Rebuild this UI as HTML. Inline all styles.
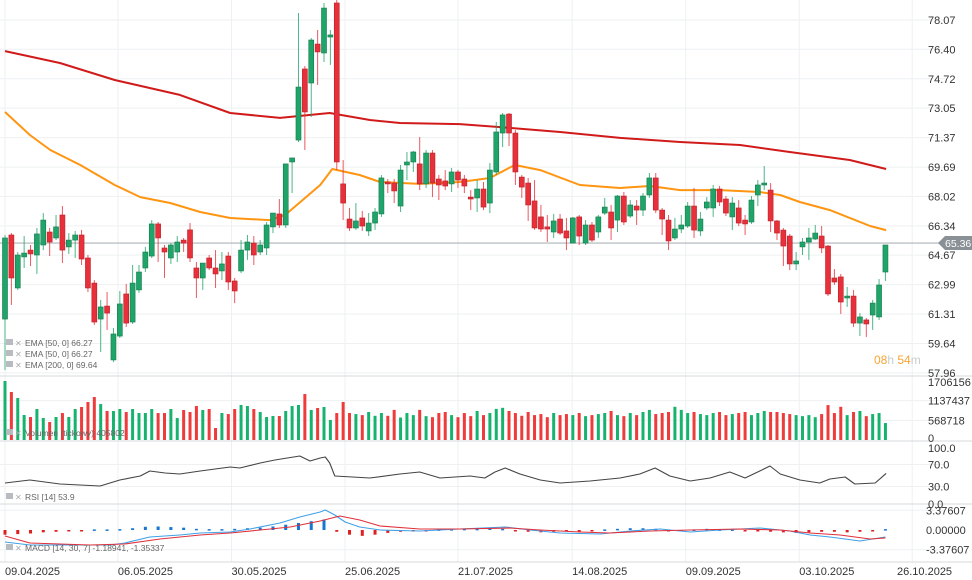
<!DOCTYPE html>
<html><head><meta charset="utf-8"><style>
html,body{margin:0;padding:0;background:#fff;}
svg{display:block;font-family:"Liberation Sans",sans-serif;}
</style></head><body>
<svg id="chart" width="972" height="580" viewBox="0 0 972 580" xmlns="http://www.w3.org/2000/svg"></svg>
<script>
// ---- data ----
const opens=[61.03,65.82,62.80,64.57,64.96,64.68,65.25,65.99,65.65,66.96,65.14,65.53,65.82,64.51,63.08,61.03,61.77,58.70,60.06,62.46,60.86,62.69,63.94,64.62,66.45,65.08,64.51,64.85,65.53,66.11,63.94,63.37,64.51,63.94,63.77,64.62,63.20,63.77,64.96,65.36,64.85,65.08,66.28,67.02,66.39,69.98,71.23,75.28,74.48,76.70,76.19,77.10,79.04,68.73,66.73,66.22,66.79,66.05,66.50,67.02,68.84,68.78,67.47,69.81,69.98,69.87,68.73,70.49,69.01,68.90,68.73,69.41,69.01,67.98,67.93,68.44,67.64,69.41,71.63,72.71,71.63,69.12,68.78,67.76,66.85,66.28,65.99,66.73,66.05,65.36,66.85,65.36,66.39,65.99,67.07,67.13,66.67,68.04,66.90,67.47,67.24,68.10,69.07,67.24,66.67,65.65,66.16,66.33,67.47,66.05,67.36,67.36,68.44,67.87,66.85,67.36,66.67,66.56,68.10,68.67,68.38,66.62,66.10,65.76,64.17,65.14,65.42,65.59,65.76,65.19,63.37,63.43,62.23,62.34,60.80,60.98,61.26,61.15,63.71];
const closes=[65.65,63.37,64.68,64.79,64.74,65.88,66.67,65.42,66.28,64.96,65.53,65.82,64.45,62.80,60.86,61.72,61.37,60.18,61.89,60.80,63.08,63.71,64.85,66.45,65.65,64.85,65.25,65.42,65.36,64.51,63.37,64.22,63.94,63.60,64.17,63.14,62.63,64.96,65.42,64.68,65.25,66.39,67.07,66.39,69.87,70.21,74.25,72.83,76.93,76.25,78.75,77.22,69.98,67.64,66.22,66.62,66.33,66.50,67.13,69.07,68.73,68.33,69.52,69.98,70.55,68.73,70.49,68.78,68.67,68.61,69.41,68.95,68.61,67.87,68.44,67.41,69.52,71.69,72.66,71.63,69.41,68.55,67.53,66.22,66.16,66.16,66.62,65.93,65.65,66.79,65.76,66.39,65.53,66.85,67.41,66.22,68.04,66.56,67.53,67.24,68.04,69.07,67.24,66.73,65.48,66.16,66.39,67.47,66.10,66.73,67.70,68.44,67.70,67.07,67.64,66.50,66.45,67.81,68.67,68.78,66.62,65.93,65.19,64.17,64.34,65.42,65.65,65.93,65.08,62.46,63.14,62.00,62.34,60.80,61.15,60.75,61.94,62.97,65.25];
const highs=[65.82,65.93,64.85,65.76,65.25,66.22,67.07,66.22,66.96,67.47,65.93,66.05,66.11,64.68,63.25,62.12,62.57,60.52,62.63,63.03,64.11,64.11,65.14,66.67,66.56,65.25,65.36,65.76,65.65,66.50,64.28,64.22,64.68,64.96,64.85,64.85,63.37,65.53,65.82,65.76,65.53,66.56,67.07,67.87,69.87,70.21,78.47,75.45,77.04,77.50,79.04,77.50,79.21,70.09,67.36,67.64,67.19,67.07,67.36,69.24,69.01,69.01,69.81,70.55,70.61,71.40,70.66,70.66,69.24,69.52,69.64,69.52,69.24,68.38,68.95,68.84,69.92,72.26,72.77,72.77,71.80,69.24,69.07,68.95,67.53,66.96,67.02,67.02,66.79,66.85,66.96,66.67,66.56,66.96,67.93,67.53,68.10,68.27,67.81,67.81,68.21,69.35,69.35,67.36,66.96,66.79,66.96,67.70,68.50,67.13,67.98,68.67,68.61,68.04,67.98,67.81,66.96,68.04,68.95,69.75,68.78,66.67,66.22,65.88,64.85,65.65,66.22,66.39,66.33,65.25,63.88,63.60,62.86,62.69,61.37,61.09,62.12,63.31,65.25];
const lows=[58.13,61.83,62.69,63.94,64.05,63.60,64.96,64.62,65.53,64.22,64.74,64.51,64.11,62.57,60.69,59.15,60.41,58.58,59.95,60.58,60.75,62.52,63.71,64.51,64.28,63.37,64.17,64.28,64.85,64.28,62.23,62.69,63.82,62.80,63.25,62.69,61.94,63.65,64.40,64.11,64.68,64.68,65.93,66.22,66.22,68.21,71.12,70.66,72.54,74.37,75.68,75.51,69.52,66.67,66.05,66.11,66.05,65.76,66.11,66.85,68.21,67.64,67.13,68.95,69.41,68.38,68.50,67.98,67.81,68.38,68.27,68.50,68.21,67.24,67.13,67.24,67.07,69.24,70.83,70.89,68.67,67.93,66.62,66.11,65.99,65.42,65.65,65.82,64.96,65.36,65.25,65.25,65.42,65.65,66.96,65.53,65.99,66.39,66.79,66.39,66.90,67.93,67.07,65.82,64.96,65.53,65.93,66.22,65.65,65.76,67.24,66.85,67.47,66.90,66.10,66.33,65.82,66.45,67.47,68.38,65.99,65.53,64.05,63.82,63.82,64.68,64.40,65.53,64.79,62.34,62.97,61.32,61.72,60.58,60.06,60.01,60.41,60.98,63.20];
const volumes=[1706,1388,1214,723,665,896,636,520,665,780,665,896,954,1098,1243,1040,838,838,896,809,896,780,780,896,780,780,896,636,867,809,983,867,896,347,780,751,896,1012,983,896,809,665,694,694,838,983,1012,1329,867,925,954,578,780,1099,780,750,720,810,700,780,700,870,650,780,720,870,690,660,780,810,720,660,780,690,840,720,780,900,930,840,780,700,810,720,750,660,780,720,750,720,780,690,720,750,780,840,720,690,780,720,810,870,750,780,810,960,870,780,810,750,720,780,810,720,750,780,810,720,780,840,810,810,780,750,720,690,720,660,750,1010,780,960,720,810,840,690,750,780,490];
const ema200Idx=[0,8.6,17.2,27.4,35.3,43.1,50.9,57.2,61.9,71.3,77.6,87,96.4,105.8,115.2,123,132.4,138.1];
const ema200Val=[76.30,75.62,74.65,73.80,72.77,72.49,72.77,72.37,72.20,72.14,71.97,71.69,71.35,71.12,70.95,70.55,70.09,69.58];
const ema50Idx=[0,3.9,7.1,11.8,17.2,21.2,25.9,30.6,35.3,41.5,43.9,49.4,51.3,55.6,58.8,65,71.3,76,79.9,83.9,90.1,96.4,101.1,105.8,112.1,118.3,121.5,124.6,129.3,135.6,138.1];
const ema50Val=[72.83,71.52,70.66,69.81,68.67,67.98,67.64,67.13,66.79,66.67,66.96,68.67,69.58,69.24,68.84,68.73,68.84,69.07,69.81,69.52,68.67,68.50,68.61,68.38,68.38,68.27,68.10,67.70,67.24,66.33,66.10];
const rsiIdx=[0,3.9,8.6,14.9,18,21.2,22.7,25.1,27.4,30.6,35.3,36.8,40,42.3,46.2,47.8,49.4,50.2,50.9,51.7,57.2,61.9,65,68.2,72.9,75.2,76.8,78.4,80.7,83.9,87,91.7,96.4,99.5,101.9,104.2,107.4,110.5,113.6,116,118.3,119.9,121.5,124.6,127.7,129.3,131.7,133.2,136.4,138.1];
const rsiVal=[36.4,41.8,34.5,30.9,41.8,49.1,58.2,54.5,52.7,58.2,65.5,63.6,72.7,78.2,85.5,76.4,81.8,83.6,72.7,49.1,45.5,52.7,56.4,45.5,49.1,45.5,56.4,63.6,52.7,41.8,36.4,40,45.5,52.7,63.6,49.1,40,45.5,56.4,45.5,58.2,67.3,52.7,41.8,36.4,43.6,47.3,34.5,36.4,53.9];
const macdIdx=[0,3.9,16.5,18.8,22.7,27.4,30.6,35.3,38.4,43.1,46.2,49.4,50.2,51.7,53.3,55.6,58.8,65,71.3,78.4,82.3,87,93.3,98,102.7,107.4,112.1,118.3,123,126.2,129.3,134,138];
const macdVal=[-2.05,-2.56,-2.56,-2.22,-1.20,-0.85,-0.51,-0.34,0.17,1.20,2.22,3.08,3.42,2.56,1.37,0.51,0,-0.17,0.17,0.51,0,-0.51,-0.68,-0.17,0.17,-0.34,0,0.34,-0.17,-0.85,-1.20,-1.88,-1.19];
const sigIdx=[0,3.9,13.3,18.8,24.3,30.6,35.3,40,44.7,49.4,52.5,55.6,58.8,65,71.3,79.1,83.9,90.1,94.8,101.1,107.4,115.2,121.5,126.2,130.9,135.6,138];
const sigVal=[-1.03,-2.22,-2.56,-2.39,-1.54,-0.85,-0.51,0,0.51,1.54,2.39,1.71,0.68,0.17,0.17,0.34,0,-0.34,-0.51,-0.17,0,0.17,0,-0.51,-0.85,-1.54,-1.35];
const histVal=[-0.8,-0.7,-0.6,-0.4,-0.3,-0.15,-0.1,0.1,0.1,0.15,0.3,0.55,0.6,0.5,0.4,0.2,0.15,0.15,0.2,0.3,0.4,0.6,0.9,1.2,1.5,1.8,-0.3,-0.8,-1.0,-0.8,-0.5,-0.3,-0.2,-0.1,0.1,0.15,0.2,0.2,0.3,0.2,-0.1,-0.3,-0.4,-0.3,-0.2,-0.15,-0.1,0.1,0.2,0.3,0.3,0.2,-0.1,-0.2,0.1,0.2,0.1,0.1,-0.1,-0.2,-0.3,-0.4,-0.5,-0.4,-0.3,-0.3,-0.4,-0.3,-0.2,0.15];
const priceTicks=[78.07,76.40,74.72,73.05,71.37,69.69,68.02,66.34,64.67,62.99,61.31,59.64,57.96];
const dateLabels=["09.04.2025","06.05.2025","30.05.2025","25.06.2025","21.07.2025","14.08.2025","09.09.2025","03.10.2025","26.10.2025"];
const dateIdx=[0,17.7,35.5,53.3,71,88.9,106.7,124.5,142.2];
const lastPrice=65.36;

// ---- scales ----
const X0=5, STEP=6.38;
const xs=i=>X0+i*STEP;
const yP=p=>20+(78.07-p)*17.55;
const yV=v=>440-v/1706.156*59;
const yR=r=>503-r*0.55;
const yM=m=>530-m*5.85;
const GREEN="#1fa56a", RED="#e8303a";
const svg=document.getElementById('chart');
const NS="http://www.w3.org/2000/svg";
function mk(tag,attrs,parent){const e=document.createElementNS(NS,tag);for(const k in attrs)e.setAttribute(k,attrs[k]);(parent||svg).appendChild(e);return e;}
function txt(s,x,y,attrs,parent){const t=mk('text',Object.assign({x:x,y:y},attrs),parent);t.textContent=s;return t;}

// grid
const grid=mk('g',{});


priceTicks.forEach(p=>{mk('line',{x1:0,x2:945,y1:yP(p),y2:yP(p),stroke:'#eef0f2','stroke-width':1},grid);});
dateIdx.forEach(d=>{mk('line',{x1:xs(d),x2:xs(d),y1:0,y2:562,stroke:'#eef0f2','stroke-width':1},grid);});
[yV(568.718),yV(1137.437)].forEach(y=>mk('line',{x1:0,x2:945,y1:y,y2:y,stroke:'#eef0f2'},grid));
[yR(70),yR(30)].forEach(y=>mk('line',{x1:0,x2:945,y1:y,y2:y,stroke:'#eef0f2'},grid));
[yM(3.376),yM(-3.376)].forEach(y=>mk('line',{x1:0,x2:945,y1:y,y2:y,stroke:'#eef0f2'},grid));
[376,441,504,562].forEach(y=>mk('line',{x1:0,x2:972,y1:y,y2:y,stroke:'#d6d9dc','stroke-width':1},grid));

// current price line
const cl=mk('line',{x1:0,x2:940,y1:yP(lastPrice),y2:yP(lastPrice),stroke:'#aeb4b8','stroke-width':1.2});



function poly(idx,vals,yf,color,w,name){
  const pts=idx.map((d,k)=>xs(d).toFixed(1)+','+yf(vals[k]).toFixed(1)).join(' ');
  const pl=mk('polyline',{points:pts,fill:'none',stroke:color,'stroke-width':w,'stroke-linejoin':'round'});
  
  
  return pl;
}
poly(ema200Idx,ema200Val,yP,'#d11a1a',2,'ema-200-line');
poly(ema50Idx,ema50Val,yP,'#ff9510',2,'ema-50-line');

// candles
const cg=mk('g',{});


opens.forEach((o,i)=>{
  const c=closes[i],up=c>=o,col=up?GREEN:RED,x=xs(i);
  const w=mk('line',{x1:x,x2:x,y1:yP(highs[i]),y2:yP(lows[i]),stroke:col,'stroke-width':1,opacity:0.8},cg);
  
  
  const top=yP(Math.max(o,c)),bot=yP(Math.min(o,c));
  const r=mk('rect',{x:x-2.5,y:top,width:5,height:Math.max(1.5,bot-top),fill:col,stroke:up?'#157a4c':'#b81f28','stroke-width':0.6},cg);
  
  
});

// volume
const vg=mk('g',{});


volumes.forEach((v,i)=>{
  const up=closes[i]>=opens[i];
  const b=mk('rect',{x:xs(i)-1.5,y:yV(v),width:3,height:440-yV(v),fill:up?'#16b36f':'#ee3b3b'},vg);
  
  
});

poly(rsiIdx,rsiVal,yR,'#444',1.1,'rsi-line');

// MACD histogram
const hg=mk('g',{});


histVal.forEach((h,k)=>{
  const x=xs(k*2),y0=yM(0),y1=yM(h);
  const b=mk('rect',{x:x-1.5,y:Math.min(y0,y1),width:3,height:Math.max(1.5,Math.abs(y1-y0)),fill:h>=0?'#1577d1':'#e02020'},hg);
  
  
});
poly(macdIdx,macdVal,yM,'#3fa1e8',1.1,'macd-line');
poly(sigIdx,sigVal,yM,'#e0303a',1.1,'macd-signal-line');

// right axis labels
const ax=mk('g',{'font-size':11,fill:'#333'});


priceTicks.forEach(p=>{if(Math.abs(p-lastPrice)>0.5)txt(p.toFixed(2),928,yP(p)+4,{},ax);});
[["1706156",yV(1706.156)+5],["1137437",yV(1137.437)+4],["568718",yV(568.718)+4],["0",442]].forEach(a=>txt(a[0],928,a[1],{},ax));
[["100.0",yR(100)+4],["70.0",yR(70)+4],["30.0",yR(30)+4],["0.0",yR(0)+5]].forEach(a=>txt(a[0],928,a[1],{},ax));
[["3.37607",yM(3.376)+4],["0.00000",yM(0)+4],["-3.37607",yM(-3.376)+4]].forEach(a=>txt(a[0],926,a[1],{},ax));

// price tag
const tag=mk('g',{});


const ty=yP(lastPrice);
mk('polygon',{points:`938,${ty} 945,${ty-7} 972,${ty-7} 972,${ty+7} 945,${ty+7}`,fill:'#8a9196'},tag);
txt(lastPrice.toFixed(2),945,ty+4,{'font-size':10.5,fill:'#fff'},tag);

// date labels
const dg=mk('g',{'font-size':11,fill:'#333'});


dateLabels.forEach((d,k)=>{let x=xs(dateIdx[k]);if(x>900)x=897;txt(d,x,575,{},dg);});

// countdown
const cd=txt('',874,364,{'font-size':12});


cd.innerHTML='<tspan fill="#f7a532">08</tspan><tspan fill="#c8ccd0">h </tspan><tspan fill="#f7a532">54</tspan><tspan fill="#c8ccd0">m</tspan>';

// legends
function legend(s,y,name){
  const g=mk('g',{});
  
  
  mk('rect',{x:6,y:y-7,width:7,height:6,fill:'#b8bcc0'},g);
  txt('✕',15,y,{'font-size':8,fill:'#a8acb0'},g);
  txt(s,25,y,{'font-size':8.5,fill:'#666'},g);
}
legend('EMA [50, 0] 66.27',346,'legend-ema-50');
legend('EMA [50, 0] 66.27',357,'legend-ema-50-b');
legend('EMA [200, 0] 69.64',368,'legend-ema-200');
legend('Volumen (tickowy) 405802',436,'legend-volume');
legend('RSI [14] 53.9',500,'legend-rsi');
legend('MACD [14, 30, 7] -1.18941, -1.35337',551,'legend-macd');
</script>
</body></html>
